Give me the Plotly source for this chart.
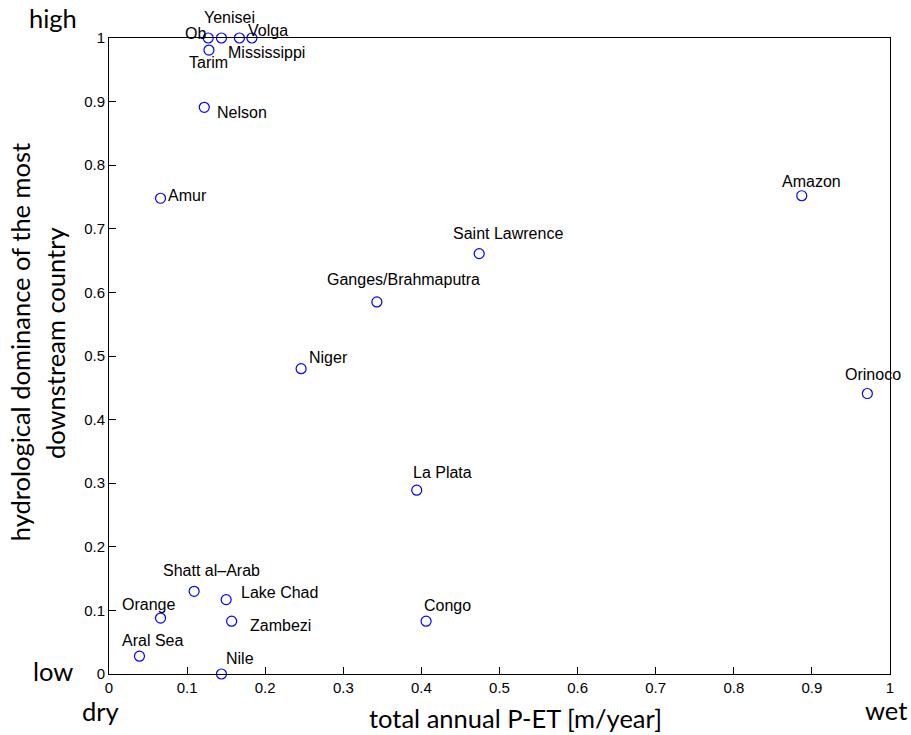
import plotly.graph_objects as go

# ---- data ----
basins = ["Ob", "Yenisei", "Mississippi", "Volga", "Tarim", "Nelson", "Amur",
          "Amazon", "Saint Lawrence", "Ganges/Brahmaputra", "Niger", "Orinoco",
          "La Plata", "Shatt al\u2013Arab", "Lake Chad", "Orange", "Zambezi",
          "Congo", "Aral Sea", "Nile"]
pet = [0.127, 0.144, 0.167, 0.183, 0.128, 0.122, 0.066,
       0.887, 0.474, 0.343, 0.246, 0.971,
       0.394, 0.109, 0.150, 0.066, 0.157,
       0.406, 0.039, 0.144]
dominance = [1.0, 1.0, 1.0, 1.0, 0.981, 0.891, 0.748,
             0.752, 0.661, 0.585, 0.480, 0.441,
             0.289, 0.130, 0.117, 0.088, 0.083,
             0.083, 0.028, 0.0]
x_ticks = [0, 0.1, 0.2, 0.3, 0.4, 0.5, 0.6, 0.7, 0.8, 0.9, 1]
y_ticks = [0, 0.1, 0.2, 0.3, 0.4, 0.5, 0.6, 0.7, 0.8, 0.9, 1]

# ---- label offsets (pixels, right / down) : style only ----
label_offset = {
    "Ob": (-13, -5), "Yenisei": (8, -21), "Mississippi": (27, 14),
    "Volga": (16, -8), "Tarim": (0, 12), "Nelson": (38, 5), "Amur": (27, -3),
    "Amazon": (10, -14), "Saint Lawrence": (29, -20),
    "Ganges/Brahmaputra": (27, -22), "Niger": (27, -11), "Orinoco": (6, -19),
    "La Plata": (26, -18), "Shatt al\u2013Arab": (17, -21),
    "Lake Chad": (53, -7), "Orange": (-12, -14), "Zambezi": (49, 4),
    "Congo": (21, -16), "Aral Sea": (13, -16), "Nile": (19, -16),
}

fig = go.Figure()
fig.add_trace(go.Scatter(
    x=pet, y=dominance, mode="markers", cliponaxis=False,
    marker=dict(symbol="circle-open", size=10, color="#0000ff",
                line=dict(width=1.2, color="#0000ff")),
    hoverinfo="text", text=basins, showlegend=False,
))

label_font = dict(family="Liberation Sans, Arial, sans-serif", size=16, color="black")
for name, xv, yv in zip(basins, pet, dominance):
    dx, dy = label_offset[name]
    fig.add_annotation(x=xv, y=yv, xref="x", yref="y", text=name,
                       showarrow=False, xshift=dx, yshift=-dy,
                       xanchor="center", yanchor="middle", font=label_font)

gill = dict(family="Lato, Open Sans, sans-serif", size=25.5, color="black")
extra = [
    ("high", -0.0723, 1.031),
    ("low", -0.0723, 0.005),
    ("dry", -0.011, -0.058),
    ("wet", 0.9955, -0.056),
    ("total annual P-ET [m/year]", 0.520, -0.069),
]
for txt, px, py in extra:
    fig.add_annotation(x=px, y=py, xref="paper", yref="paper", text=txt,
                       showarrow=False, xanchor="center", yanchor="middle",
                       font=gill)
fig.add_annotation(x=-0.1145, y=0.521, xref="paper", yref="paper",
                   text="hydrological dominance of the most", textangle=-90,
                   showarrow=False, xanchor="center", yanchor="middle", font=gill)
fig.add_annotation(x=-0.0700, y=0.521, xref="paper", yref="paper",
                   text="downstream country", textangle=-90,
                   showarrow=False, xanchor="center", yanchor="middle", font=gill)

tick_font = dict(family="Liberation Sans, Arial, sans-serif", size=15, color="black")
axis_common = dict(range=[0, 1], showgrid=False, zeroline=False,
                   showline=True, linecolor="black", linewidth=1, mirror=True,
                   ticks="inside", ticklen=7, tickwidth=1, tickcolor="black",
                   tickfont=tick_font)
fig.update_xaxes(tickvals=x_ticks, ticktext=[f"{v:g}" for v in x_ticks], **axis_common)
fig.update_yaxes(tickvals=y_ticks, ticktext=[f"{v:g}" for v in y_ticks], **axis_common)

fig.update_layout(
    width=911, height=735,
    margin=dict(l=108.5, r=20.5, t=38.3, b=60.7, autoexpand=False),
    paper_bgcolor="white", plot_bgcolor="white",
)

fig.write_html("out.html")
